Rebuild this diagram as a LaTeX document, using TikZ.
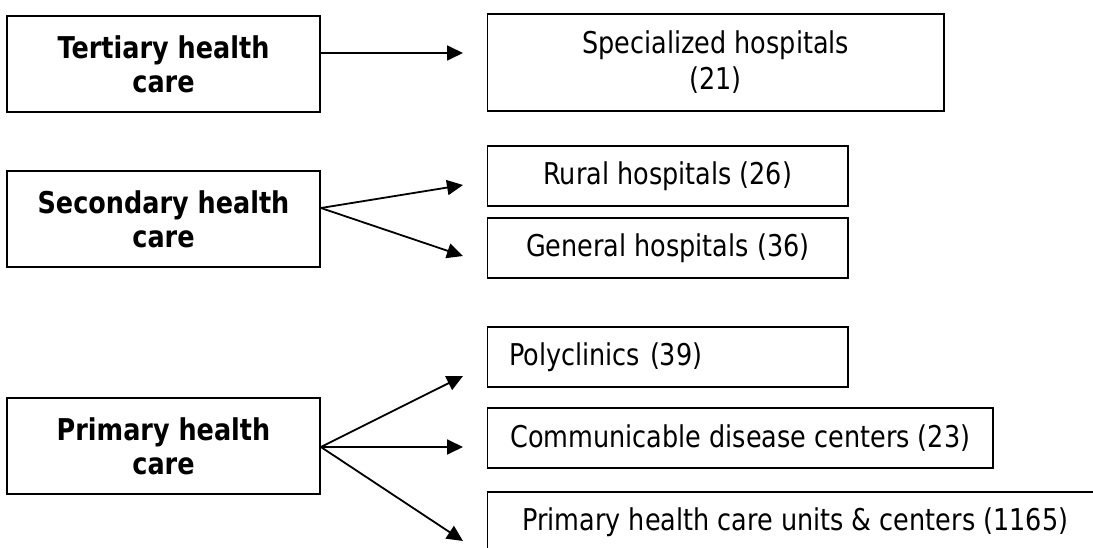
\documentclass[tikz,border=0pt]{standalone}
\usepackage{fontspec}
\setmainfont{DejaVu Sans}[FakeStretch=0.85]
\usetikzlibrary{arrows.meta}
\begin{document}
\begin{tikzpicture}[x=1pt,y=-1pt,
  level/.style={draw,line width=1.8pt,rectangle,inner sep=0pt,
    minimum width=313pt,minimum height=96pt,align=center,
    font=\fontsize{30}{34}\selectfont\bfseries},
  facility/.style={draw,line width=1.8pt,rectangle,inner sep=0pt,
    minimum height=60pt,align=center,font=\fontsize{30}{36}\selectfont},
  arr/.style={line width=1.8pt,-{Triangle[length=16pt,width=15pt]}}]
\clip (0,0) rectangle (1093,548);
\fill[white] (0,0) rectangle (1093,548);

% care levels
\node[level] (tert) at (163.5,64) {Tertiary health\\care};
\node[level] (sec)  at (163.5,219) {Secondary health\\care};
\node[level] (prim) at (163.5,446) {Primary health\\care};

% facilities
\node[facility,minimum width=456.5pt,minimum height=97pt] (spec) at (715.75,62.5)
  {Specialized hospitals\\(21)};
\node[facility,minimum width=360.5pt] (rural) at (667.75,176) {Rural hospitals (26)};
\node[facility,minimum width=360.5pt] (gen) at (667.75,248) {General hospitals (36)};
\node[facility,text width=317.5pt,inner xsep=21.5pt,align=left] (poly) at (667.75,357)
  {Polyclinics (39)};
\node[facility,minimum width=505.5pt] (comm) at (740.25,438) {Communicable disease centers (23)};
\node[facility,minimum width=615.5pt] (units) at (795.25,522) {Primary health care units \& centers (1165)};

% arrow tips and shared start points
\coordinate (tT) at (463,53);
\coordinate (tS1) at (463,185);
\coordinate (tS2) at (463,256);
\coordinate (tP1) at (463,376);
\coordinate (tP2) at (463,447);
\coordinate (tP3) at (463,541);
\coordinate (oS) at (320,208);
\coordinate (oP) at (320,447);

\draw[arr] (tert.east |- tT) -- (tT);
\draw[arr] (sec.east |- oS) -- (tS1);
\draw[arr] (sec.east |- oS) -- (tS2);
\draw[arr] (prim.east |- oP) -- (tP1);
\draw[arr] (prim.east |- oP) -- (tP2);
\draw[arr] (prim.east |- oP) -- (tP3);
\end{tikzpicture}
\end{document}
